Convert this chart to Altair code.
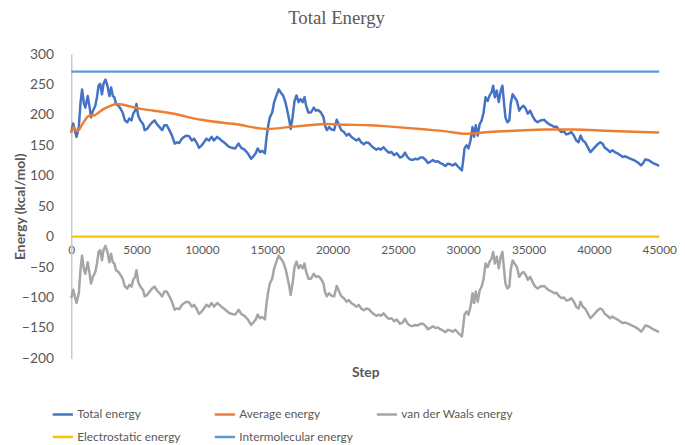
import altair as alt
import pandas as pd

# ---- data ----
steps = [0,150,250,400,580,710,830,960,1080,1260,1410,1510,1660,1840,1970,2090,2220,2350,2470,2620,
         2770,2920,3050,3180,3300,3430,3610,3780,3930,4110,4290,4440,4610,4740,4890,4990,5120,5290,5500,5620,
         5800,6000,6200,6380,6550,6760,6960,7130,7310,7510,7710,7920,8090,8270,8470,8650,8820,9020,
         9230,9400,9580,9780,9980,10160,10340,10540,10740,10920,11170,11340,11550,11800,12050,12300,12550,12810,13010,13260,
         13510,13770,13940,14120,14270,14450,14620,14820,14950,15080,15200,15380,15530,15710,15880,16030,16210,16390,16540,16690,
         16790,16940,17090,17240,17400,17550,17720,
         17850,17980,18150,18350,18560,18730,18910,19110,19310,19410,19560,19740,19920,20120,20320,20500,20670,20870,21080,21250,
         21430,21630,21830,22010,22190,22390,22590,22770,22940,23140,23350,23520,23700,23900,24100,24300,24510,24710,24910,25160,
         25360,25540,25720,25920,26120,26320,26520,26720,
         26920,27130,27300,27480,27680,27880,28060,28240,28440,28640,28820,28990,29190,29400,29570,29750,29900,30000,30100,30250,
         30400,30560,30710,30830,30960,31110,31260,31410,31560,31710,31870,32020,32170,32290,32420,32570,32720,32870,33000,33130,
         33230,33380,33530,33630,33780,33930,34110,34290,34440,34610,34790,34940,35120,35290,35500,35700,35900,
         36200,36380,36560,36760,36960,37140,37310,37510,37710,37890,38070,38270,38470,38650,38820,38980,39150,39330,39530,39730,
         39910,40080,40290,40490,40660,40840,41040,41240,41420,41600,41800,42000,42200,42400,42610,42810,43010,43210,43410,43610,
         43770,43940,44120,44320,44520,44720,44920,45000]

total = [172,186,177,164,180,220,242,220,212,231,212,196,207,215,229,248,251,234,251,258,
         248,231,245,231,229,218,215,210,204,191,188,194,191,202,207,218,199,191,185,175,
         177,183,188,191,185,180,175,183,183,175,166,153,155,154,161,164,166,165,
         158,161,155,146,150,155,161,158,164,158,164,161,157,153,148,146,145,153,146,143,
         137,128,132,137,145,139,141,137,164,183,196,204,221,232,242,237,232,221,207,191,
         177,196,223,232,221,226,221,
         229,215,204,204,212,207,208,204,196,183,175,180,176,175,192,183,175,172,166,169,
         164,161,158,161,155,152,155,154,150,146,143,145,143,147,142,138,139,134,137,130,
         132,138,131,127,126,128,127,130,
         130,126,121,123,126,123,124,121,119,116,120,119,117,120,116,112,109,126,145,150,
         145,158,180,164,183,166,185,191,204,229,223,232,237,248,229,240,221,240,248,218,
         196,188,191,218,234,229,223,207,212,215,210,202,207,199,191,188,191,
         192,188,185,183,180,181,176,172,173,168,169,172,166,158,155,166,158,155,147,139,
         143,147,152,155,153,146,143,139,142,139,137,134,131,132,130,128,126,124,121,117,
         121,127,126,124,121,119,117,117]

vdw = [-101,-87,-96,-109,-93,-53,-31,-53,-61,-42,-61,-77,-66,-58,-44,-25,-22,-39,-22,-15,
       -25,-42,-28,-42,-44,-55,-58,-63,-69,-82,-85,-79,-82,-71,-66,-55,-74,-82,-88,-98,
       -96,-90,-85,-82,-88,-93,-98,-90,-90,-98,-107,-120,-118,-119,-112,-109,-107,-108,
       -115,-112,-118,-127,-123,-118,-112,-115,-109,-115,-109,-112,-116,-120,-125,-127,-128,-120,-127,-130,
       -136,-145,-141,-136,-128,-134,-132,-136,-109,-90,-77,-69,-52,-41,-31,-36,-41,-52,-66,-82,
       -96,-77,-50,-41,-52,-47,-52,
       -44,-58,-69,-69,-61,-66,-65,-69,-77,-90,-98,-93,-97,-98,-81,-90,-98,-101,-107,-104,
       -109,-112,-115,-112,-118,-121,-118,-119,-123,-127,-130,-128,-130,-126,-131,-135,-134,-139,-136,-143,
       -141,-135,-142,-146,-147,-145,-146,-143,
       -143,-147,-152,-150,-147,-150,-149,-152,-154,-157,-153,-154,-156,-153,-157,-161,-164,-147,-128,-123,
       -128,-115,-93,-109,-90,-107,-88,-82,-69,-44,-50,-41,-36,-25,-44,-33,-52,-33,-25,-55,
       -77,-85,-82,-55,-39,-44,-50,-66,-61,-58,-63,-71,-66,-74,-82,-85,-82,
       -81,-85,-88,-90,-93,-92,-97,-101,-100,-105,-104,-101,-107,-115,-118,-107,-115,-118,-126,-134,
       -130,-126,-121,-118,-120,-127,-130,-134,-131,-134,-136,-139,-142,-141,-143,-145,-147,-149,-152,-156,
       -152,-146,-147,-149,-152,-154,-156,-156]

avg_steps = [0,200,400,600,850,1100,1400,1700,2100,2500,3000,3500,3900,4500,5300,6300,7300,8300,9000,10300,
             12500,15100,16600,18200,19400,20900,22900,24900,27200,28700,30200,32000,34000,36300,38500,41000,43600,45000]
average = [170,180,174,176,185,193,199,199,204,210,215,218,217,214,210,207,204,200,196,191,
           185,177,180,183,185,184,183,180,176,173,169,172,174,176,176,174,172,171]

flat_steps = [0, 45000]
electrostatic = [0, 0]
intermolecular = [271, 271]

x_ticks = [0, 5000, 10000, 15000, 20000, 25000, 30000, 35000, 40000, 45000]
y_ticks = [-200, -150, -100, -50, 0, 50, 100, 150, 200, 250, 300]

series = ["Total energy", "Average energy", "van der Waals energy",
          "Electrostatic energy", "Intermolecular energy"]
colors = ["#4472C4", "#ED7D31", "#A5A5A5", "#FFC000", "#5B9BD5"]

assert len(steps) == len(total) == len(vdw)
assert len(avg_steps) == len(average)

noisy = pd.DataFrame(
    [{"step": s, "value": v, "series": series[0]} for s, v in zip(steps, total)]
    + [{"step": s, "value": v, "series": series[2]} for s, v in zip(steps, vdw)]
)
avg_df = pd.DataFrame([{"step": s, "value": v, "series": series[1]} for s, v in zip(avg_steps, average)])
flat_df = pd.DataFrame(
    [{"step": s, "value": v, "series": series[3]} for s, v in zip(flat_steps, electrostatic)]
    + [{"step": s, "value": v, "series": series[4]} for s, v in zip(flat_steps, intermolecular)]
)

W, H = 595, 308
GREY = "#595959"

x_enc = alt.X(
    "step:Q",
    scale=alt.Scale(domain=[0, 45000], nice=False, zero=False),
    axis=alt.Axis(
        values=x_ticks, format="d", title="Step",
        domain=False, ticks=False, grid=False,
        labelFont="Lato", labelFontSize=12, labelColor=GREY, labelPadding=8,
        labelFlush=False, labelOverlap=False,
        offset=-H * 200 / 500,
        titleFont="Lato", titleFontSize=14, titleFontWeight="bold", titleColor=GREY,
        titleY=137, titleBaseline="middle",
    ),
)
y_enc = alt.Y(
    "value:Q",
    scale=alt.Scale(domain=[-200, 300], nice=False, zero=False),
    axis=alt.Axis(
        values=y_ticks, format="d", title="Energy (kcal/mol)",
        grid=False, ticks=False, domainColor="#C8C8C8", domainWidth=1.5,
        labelFont="Lato", labelFontSize=14, labelColor=GREY, labelPadding=18,
        labelOverlap=False, labelFlush=False,
        titleFont="Lato", titleFontSize=14, titleFontWeight="bold", titleColor=GREY,
        titleX=-51, titleBaseline="middle",
    ),
)
color_enc = alt.Color(
    "series:N",
    scale=alt.Scale(domain=series, range=colors),
    legend=alt.Legend(
        title=None, orient="none", direction="horizontal", legendX=-20, legendY=353, columns=3,
        symbolType="stroke", symbolSize=420, symbolStrokeWidth=2.5,
        labelFont="Lato", labelFontSize=12, labelColor=GREY, labelOffset=3,
        gridAlign="all", columnPadding=18, rowPadding=5,
    ),
)

noisy_layer = alt.Chart(noisy).mark_line(strokeWidth=2.5, strokeJoin="round").encode(
    x=x_enc, y=y_enc, color=color_enc
)
avg_layer = alt.Chart(avg_df).mark_line(strokeWidth=2.5, interpolate="monotone").encode(
    x=x_enc, y=y_enc, color=color_enc
)
flat_layer = alt.Chart(flat_df).mark_line(strokeWidth=2.3).encode(
    x=x_enc, y=y_enc, color=color_enc
)

chart = alt.layer(noisy_layer, avg_layer, flat_layer).properties(
    width=W, height=H,
    padding={"left": 64, "top": 44, "right": 18, "bottom": 85},
    autosize=alt.AutoSizeParams(type="none"),
    background="white",
    title=alt.TitleParams(
        "Total Energy", font="Liberation Serif", fontSize=19, fontWeight="normal",
        color=GREY, anchor="middle", frame="group", dx=-29, offset=19,
    ),
).configure_view(stroke=None).configure_axisY(labelOverlap=False)

chart.save("out.html", embed_options={"renderer": "svg", "actions": False})
